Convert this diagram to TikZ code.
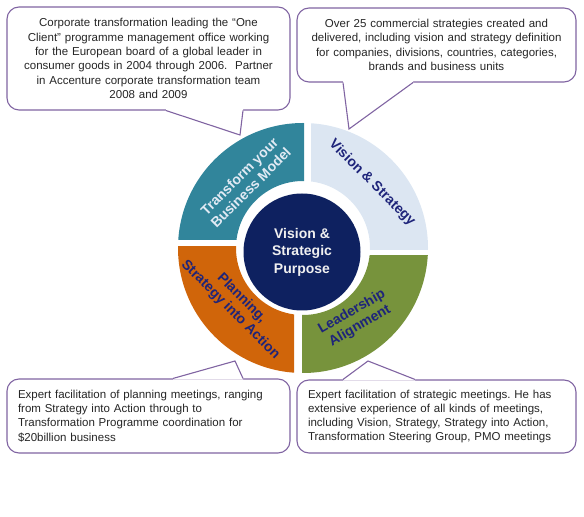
\documentclass[tikz,border=0pt]{standalone}
\usepackage{fontspec}
\setmainfont{Liberation Sans}
\usepackage{tikz}
\usetikzlibrary{calc}
\frenchspacing

\definecolor{ringteal}{RGB}{49,133,155}
\definecolor{ringsky}{RGB}{220,230,242}
\definecolor{ringgreen}{RGB}{119,147,60}
\definecolor{ringorange}{RGB}{208,101,10}
\definecolor{corenavy}{RGB}{14,33,96}
\definecolor{labelblue}{RGB}{30,36,122}
\definecolor{calloutline}{RGB}{128,100,162}

\begin{document}
\begin{tikzpicture}[x=1pt, y=1pt,
    callout/.style={draw=calloutline, line width=1.1pt, rounded corners=12pt, fill=white,
      font=\fontsize{11.5}{14.3}\selectfont, text=black!85, inner sep=0pt},
    ringlabel/.style={font=\fontsize{14}{16}\selectfont\bfseries, text=labelblue, align=center}]
  \useasboundingbox (0,0) rectangle (584,517);
  % the ring: four quadrants, split with a small pinwheel offset
  \begin{scope}[shift={(303,269)}]
    \foreach \col/\xa/\ya/\xb/\yb in {ringteal/-130/8/1/130, ringsky/8/-2/130/130,
        ringgreen/-1/-130/130/-8, ringorange/-130/-130/-9/1} {
      \begin{scope}
        \clip (\xa,\ya) rectangle (\xb,\yb);
        \fill[\col, even odd rule] (0,0) circle (125pt) (0,0) circle (67pt);
      \end{scope}
    }
  \end{scope}
  \node[circle, fill=corenavy, minimum size=117pt, align=center, text=white!94!black,
    font=\fontsize{14}{17.5}\selectfont\bfseries] (core) at (302,265) {Vision \&\\Strategic\\Purpose};
  \node[ringlabel, text=ringsky!85!white, rotate=45] (transform) at (245,335) {Transform your\\Business Model};
  \node[ringlabel, rotate=-45] (vision) at (372,334) {Vision \& Strategy};
  \node[ringlabel, rotate=-45] (planning) at (236,213) {Planning,\\Strategy into Action};
  \node[ringlabel, rotate=30] (leadership) at (356,198) {Leadership\\Alignment};

  % the four callouts
  \node[callout, minimum width=283pt, minimum height=103pt, text width=263pt, align=center]
    (client) at (148.5,458.5) {Corporate transformation leading the \char"201C One\\
    Client\char"201D{} programme management office working\\
    for the European board of a global leader in\\
    consumer goods in 2004 through 2006.~~Partner\\
    in Accenture corporate transformation team\\
    2008 and 2009};
  \node[callout, minimum width=279pt, minimum height=74pt, text width=265pt, align=center]
    (strat) at (436.5,472) {Over 25 commercial strategies created and\\
    delivered, including vision and strategy definition\\
    for companies, divisions, countries, categories,\\
    brands and business units};
  \node[callout, minimum width=283pt, minimum height=74pt, text width=261pt, align=left]
    (plan) at (148.5,101) {Expert facilitation of planning meetings, ranging\\
    from Strategy into Action through to\\
    Transformation Programme coordination for\\
    \$20billion business};
  \node[callout, minimum width=279pt, minimum height=73pt, text width=257pt, align=left]
    (lead) at (436.5,100.5) {Expert facilitation of strategic meetings. He has\\
    extensive experience of all kinds of meetings,\\
    including Vision, Strategy, Strategy into Action,\\
    Transformation Steering Group, PMO meetings};

  % pointers of the callouts towards the ring
  \coordinate (client-tip) at (240,382);
  \coordinate (strat-tip) at (349,388);
  \coordinate (plan-tip) at (235,156);
  \coordinate (lead-tip) at (368,156);
  \foreach \nd/\xa/\xb/\side/\dy in {client/166/243/south/1.3, strat/343/413/south/1.3,
      plan/173/243/north/-1.3, lead/343/415/north/-1.3} {
    \fill[white] ($(\xa,0 |- \nd.\side)+(0,\dy)$) -- (\xa,0 |- \nd.\side) -- (\nd-tip)
      -- (\xb,0 |- \nd.\side) -- ($(\xb,0 |- \nd.\side)+(0,\dy)$) -- cycle;
    \draw[calloutline, line width=1.1pt] (\xa,0 |- \nd.\side) -- (\nd-tip) -- (\xb,0 |- \nd.\side);
  }
\end{tikzpicture}
\end{document}
